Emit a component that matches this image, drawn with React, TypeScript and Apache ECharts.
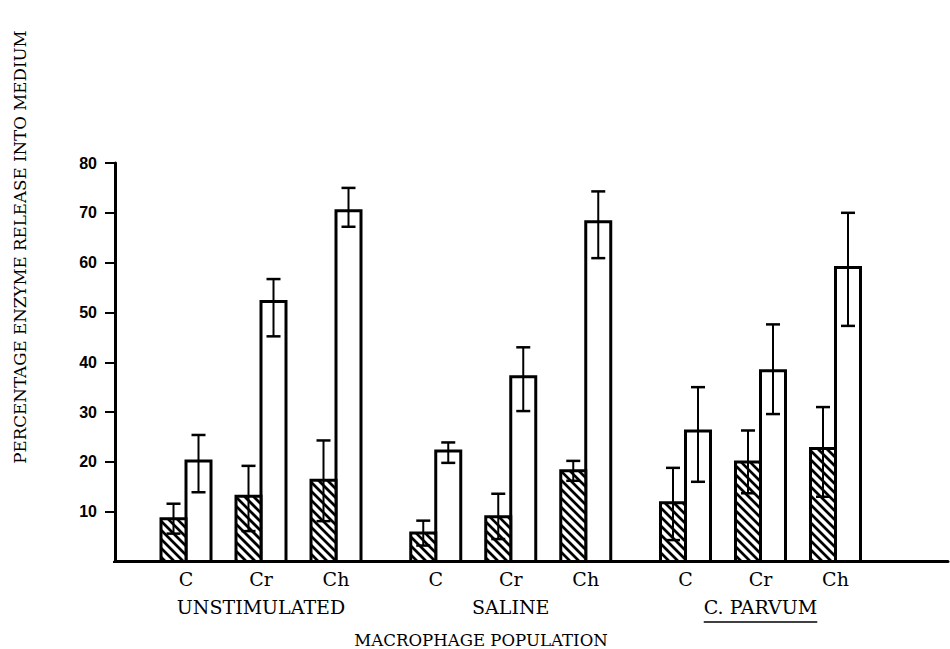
import React, { useEffect, useRef } from "react";
import * as echarts from "echarts";

const groups = ["UNSTIMULATED", "SALINE", "C. PARVUM"];
const treatments = ["C", "Cr", "Ch"];

// hatched bars (left of each pair)
const hatchedMean = [8.6, 13.1, 16.3, 5.7, 9.0, 18.2, 11.8, 20.0, 22.7];
const hatchedLow = [5.6, 6.1, 8.1, 3.2, 4.5, 16.2, 4.3, 13.7, 13.0];
const hatchedHigh = [11.6, 19.2, 24.3, 8.2, 13.6, 20.2, 18.8, 26.3, 31.0];

// open bars (right of each pair)
const openMean = [20.2, 52.2, 70.4, 22.2, 37.1, 68.2, 26.2, 38.3, 59.0];
const openLow = [13.9, 45.2, 67.2, 19.8, 30.2, 60.9, 16.0, 29.6, 47.3];
const openHigh = [25.4, 56.7, 75.0, 23.9, 43.0, 74.3, 35.0, 47.6, 70.0];

const yTitle = "PERCENTAGE ENZYME RELEASE INTO MEDIUM";
const xTitle = "MACROPHAGE POPULATION";

const GROUP_STRIDE = 3.33;
const SERIF = "'DejaVu Serif', serif";
const SANS = "'Liberation Sans', Arial, sans-serif";

function measure(text: string, font: string): number {
  const c = document.createElement("canvas").getContext("2d");
  if (!c) return text.length * 10;
  c.font = font;
  return c.measureText(text).width;
}

export default function App() {
  const ref = useRef<HTMLDivElement>(null);

  useEffect(() => {
    if (!ref.current) return;
    const chart = echarts.init(ref.current, null, { renderer: "svg" });

    const data: number[][] = [];
    groups.forEach((_g, gi) => {
      treatments.forEach((_t, ti) => {
        const k = gi * 3 + ti;
        data.push([
          gi * GROUP_STRIDE + ti,
          hatchedMean[k],
          hatchedLow[k],
          hatchedHigh[k],
          openMean[k],
          openLow[k],
          openHigh[k],
          gi,
          ti,
        ]);
      });
    });

    const groupFont = `19px ${SERIF}`;

    const renderItem = (_params: any, api: any) => {
      const x = api.value(0);
      const gi = api.value(7);
      const ti = api.value(8);
      const [cx, y0] = api.coord([x, 0]);
      const bw = 25;
      const children: any[] = [];
      const hTop = api.coord([x, api.value(1)])[1];
      const oTop = api.coord([x, api.value(4)])[1];

      children.push({
        type: "rect",
        shape: { x: cx, y: oTop, width: bw, height: y0 - oTop },
        style: { fill: "#fff", stroke: "#000", lineWidth: 3 },
      });
      children.push({
        type: "rect",
        shape: { x: cx - bw, y: hTop, width: bw, height: y0 - hTop },
        style: { fill: "#fff", stroke: null },
      });
      const x0 = cx - bw;
      const x1 = cx;
      const yT = hTop;
      const yB = y0;
      const step = 9;
      const cStart = Math.floor((yT - x1) / step) * step;
      for (let c = cStart; c <= yB - x0; c += step) {
        const xs = Math.max(x0, yT - c);
        const xe = Math.min(x1, yB - c);
        if (xe > xs) {
          children.push({
            type: "line",
            shape: { x1: xs, y1: xs + c, x2: xe, y2: xe + c },
            style: { stroke: "#000", lineWidth: 2.7 },
          });
        }
      }
      children.push({
        type: "rect",
        shape: { x: cx - bw, y: hTop, width: bw, height: y0 - hTop },
        style: { fill: "none", stroke: "#000", lineWidth: 3 },
      });

      const errBar = (xc: number, lo: number, hi: number) => {
        const pl = api.coord([x, lo])[1];
        const ph = api.coord([x, hi])[1];
        const cap = 14;
        children.push({
          type: "line",
          shape: { x1: xc, y1: pl, x2: xc, y2: ph },
          style: { stroke: "#000", lineWidth: 2 },
        });
        children.push({
          type: "line",
          shape: { x1: xc - cap / 2, y1: ph, x2: xc + cap / 2, y2: ph },
          style: { stroke: "#000", lineWidth: 2.5 },
        });
        children.push({
          type: "line",
          shape: { x1: xc - cap / 2, y1: pl, x2: xc + cap / 2, y2: pl },
          style: { stroke: "#000", lineWidth: 2.5 },
        });
      };
      errBar(cx - bw / 2, api.value(2), api.value(3));
      errBar(cx + bw / 2, api.value(5), api.value(6));

      children.push({
        type: "text",
        style: {
          text: treatments[ti],
          x: cx,
          y: y0 + 17,
          align: "center",
          textAlign: "center",
          verticalAlign: "middle",
          textVerticalAlign: "middle",
          font: `19px ${SERIF}`,
          fill: "#000",
        },
      });

      if (ti === 1) {
        const label = groups[gi];
        const ly = y0 + 45;
        children.push({
          type: "text",
          style: {
            text: label,
            x: cx,
            y: ly,
            align: "center",
            textAlign: "center",
            verticalAlign: "middle",
            textVerticalAlign: "middle",
            font: groupFont,
            fill: "#000",
          },
        });
        if (gi === 2) {
          const w = measure(label, groupFont);
          children.push({
            type: "line",
            shape: { x1: cx - w / 2, y1: ly + 15.5, x2: cx + w / 2, y2: ly + 15.5 },
            style: { stroke: "#000", lineWidth: 1.6 },
          });
        }
      }

      return { type: "group", children };
    };

    chart.setOption({
      animation: false,
      backgroundColor: "#fff",
      grid: { left: 115, right: 2, top: 163, bottom: 87.5, containLabel: false },
      xAxis: {
        type: "value",
        min: -0.9467,
        max: 10.16,
        axisLine: { show: true, onZero: true, lineStyle: { color: "#000", width: 3 } },
        axisTick: { show: false },
        axisLabel: { show: false },
        splitLine: { show: false },
      },
      yAxis: {
        type: "value",
        min: 0,
        max: 80,
        interval: 10,
        axisLine: { show: true, onZero: false, lineStyle: { color: "#000", width: 3 } },
        axisTick: { show: true, length: 10, lineStyle: { color: "#000", width: 2 } },
        axisLabel: {
          color: "#000",
          fontFamily: SANS,
          fontWeight: "bold",
          fontSize: 16,
          margin: 18,
          formatter: (v: number) => (v === 0 ? "" : String(v)),
        },
        splitLine: { show: false },
      },
      graphic: [
        {
          type: "rect",
          z: 100,
          shape: { x: 100, y: 558, width: 13, height: 8 },
          style: { fill: "#fff" },
        },
        {
          type: "text",
          x: 481,
          y: 640,
          z: 100,
          style: {
            text: xTitle,
            align: "center",
            textAlign: "center",
            verticalAlign: "middle",
            textVerticalAlign: "middle",
            font: `16.6px ${SERIF}`,
            fill: "#000",
          },
        },
        {
          type: "text",
          x: 20,
          y: 247,
          rotation: Math.PI / 2,
          z: 100,
          style: {
            text: yTitle,
            align: "center",
            textAlign: "center",
            verticalAlign: "middle",
            textVerticalAlign: "middle",
            font: `16.7px ${SERIF}`,
            fill: "#000",
          },
        },
      ],
      series: [
        {
          type: "custom",
          clip: false,
          renderItem,
          data,
          encode: { x: 0, y: 4 },
        },
      ],
    });

    return () => {
      chart.dispose();
    };
  }, []);

  return (
    <div
      ref={ref}
      style={{ position: "fixed", left: 0, top: 0, width: 950, height: 649, background: "#fff" }}
    />
  );
}
